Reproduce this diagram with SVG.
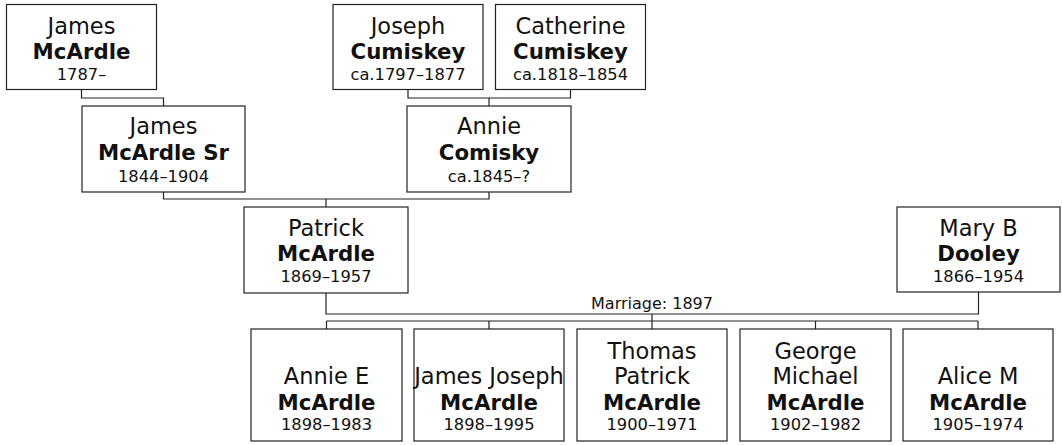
<svg xmlns="http://www.w3.org/2000/svg" width="1062" height="445" viewBox="0 0 1062 445">
<style>
.box{fill:#fff;stroke:#222;stroke-width:1.2}
.ln{fill:none;stroke:#222;stroke-width:1.2}
text{font-family:"DejaVu Sans",Verdana,sans-serif;fill:#111;text-anchor:middle}
.n{font-size:22.5px}
.s{font-size:21.3px;font-weight:bold}
.d{font-size:16.3px}
.m{font-size:16px}
</style>
<rect width="1062" height="445" fill="#fff"/>
<g id="connectors">
<path class="ln" d="M81.5,90 V98 H163.5 V106"/>
<path class="ln" d="M408,90 V98 H570.5 V90 M489,98 V106"/>
<path class="ln" d="M163.5,192 V199 H489 V192 M326,199 V207"/>
<path class="ln" d="M326,293 V314 H978.5 V292"/>
<path class="ln" d="M652,314 V321 M326.5,321 H978 M326.5,321 V329 M489,321 V329 M652,321 V329 M815.5,321 V329 M978,321 V329"/>
<text class="m" x="652" y="309">Marriage: 1897</text>
</g>
<g id="james-mcardle">
<rect class="box" x="6.5" y="4.5" width="150" height="85"/>
<text class="n" x="81.5" y="34">James</text>
<text class="s" x="81.5" y="59">McArdle</text>
<text class="d" x="81.5" y="80">1787–</text>
</g>
<g id="james-mcardle-sr">
<rect class="box" x="82" y="106" width="163" height="86"/>
<text class="n" x="163.5" y="134">James</text>
<text class="s" x="163.5" y="160">McArdle Sr</text>
<text class="d" x="163.5" y="181.5">1844–1904</text>
</g>
<g id="joseph-cumiskey">
<rect class="box" x="333" y="4.5" width="150" height="85"/>
<text class="n" x="408" y="34">Joseph</text>
<text class="s" x="408" y="59">Cumiskey</text>
<text class="d" x="408" y="80">ca.1797–1877</text>
</g>
<g id="catherine-cumiskey">
<rect class="box" x="495.5" y="4.5" width="150" height="85"/>
<text class="n" x="570.5" y="34">Catherine</text>
<text class="s" x="570.5" y="59">Cumiskey</text>
<text class="d" x="570.5" y="80">ca.1818–1854</text>
</g>
<g id="annie-comisky">
<rect class="box" x="407" y="106" width="164" height="86"/>
<text class="n" x="489" y="134">Annie</text>
<text class="s" x="489" y="160">Comisky</text>
<text class="d" x="489" y="181.5">ca.1845–?</text>
</g>
<g id="patrick-mcardle">
<rect class="box" x="244" y="207" width="164" height="86"/>
<text class="n" x="326" y="235.5">Patrick</text>
<text class="s" x="326" y="261">McArdle</text>
<text class="d" x="326" y="282">1869–1957</text>
</g>
<g id="mary-dooley">
<rect class="box" x="897" y="207" width="163" height="85"/>
<text class="n" x="978.5" y="235.5">Mary B</text>
<text class="s" x="978.5" y="261">Dooley</text>
<text class="d" x="978.5" y="282">1866–1954</text>
</g>
<g id="annie-e-mcardle">
<rect class="box" x="251" y="329" width="151" height="112"/>
<text class="n" x="326.5" y="384">Annie E</text>
<text class="s" x="326.5" y="410">McArdle</text>
<text class="d" x="326.5" y="430">1898–1983</text>
</g>
<g id="james-joseph-mcardle">
<rect class="box" x="414" y="329" width="150" height="112"/>
<text class="n" x="489" y="384">James Joseph</text>
<text class="s" x="489" y="410">McArdle</text>
<text class="d" x="489" y="430">1898–1995</text>
</g>
<g id="thomas-patrick-mcardle">
<rect class="box" x="577" y="329" width="150" height="112"/>
<text class="n" x="652" y="359">Thomas</text>
<text class="n" x="652" y="384">Patrick</text>
<text class="s" x="652" y="410">McArdle</text>
<text class="d" x="652" y="430">1900–1971</text>
</g>
<g id="george-michael-mcardle">
<rect class="box" x="740" y="329" width="151" height="112"/>
<text class="n" x="815.5" y="359">George</text>
<text class="n" x="815.5" y="384">Michael</text>
<text class="s" x="815.5" y="410">McArdle</text>
<text class="d" x="815.5" y="430">1902–1982</text>
</g>
<g id="alice-m-mcardle">
<rect class="box" x="903" y="329" width="150" height="112"/>
<text class="n" x="978" y="384">Alice M</text>
<text class="s" x="978" y="410">McArdle</text>
<text class="d" x="978" y="430">1905–1974</text>
</g>
</svg>
